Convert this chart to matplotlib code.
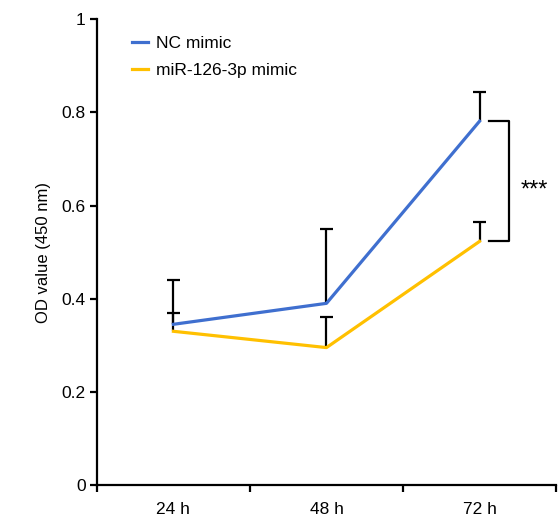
import matplotlib.pyplot as plt
import numpy as np

plt.rcParams['font.family'] = ['Liberation Sans', 'DejaVu Sans']

times = ["24 h", "48 h", "72 h"]
nc_mean = [0.345, 0.39, 0.781]
nc_upper = [0.44, 0.55, 0.843]
mir_mean = [0.33, 0.295, 0.523]
mir_upper = [0.37, 0.36, 0.564]

blue = "#3f6fcf"
yellow = "#ffc000"

fig = plt.figure(figsize=(5.6, 5.19), dpi=100)
ax = fig.add_axes([0.173, 0.0655, 0.82, 0.8975])

x = np.arange(len(times)) + 0.5
cap = 0.045

# upward-only error bars
for means, uppers in [(nc_mean, nc_upper), (mir_mean, mir_upper)]:
    ax.vlines(x, means, uppers, color="black", linewidth=1.6, zorder=1)
    ax.hlines(uppers, x - cap, x + cap, color="black", linewidth=1.6, zorder=1)

ax.plot(x, nc_mean, color=blue, linewidth=2.3, label="NC mimic", zorder=3)
ax.plot(x, mir_mean, color=yellow, linewidth=2.3, label="miR-126-3p mimic", zorder=2)

# significance bracket at 72 h
bx0, bx1 = x[2] + 0.06, x[2] + 0.19
ax.plot([bx0, bx1, bx1, bx0], [nc_mean[2], nc_mean[2], mir_mean[2], mir_mean[2]],
        color="black", linewidth=1.6, clip_on=False)
ax.text(bx1 + 0.17, (nc_mean[2] + mir_mean[2]) / 2 - 0.02, "***", ha="center",
        va="center", fontsize=17)

ax.set_xlim(0, 3)
ax.set_ylim(0, 1)
ax.set_xticks([0, 1, 2, 3])
ax.set_xticklabels([])
ax.set_xticks(x, minor=True)
ax.set_xticklabels(times, minor=True, fontsize=12.5)
ax.tick_params(axis="x", which="minor", length=0, pad=12)
ax.tick_params(axis="x", which="major", length=5, width=1.6)
ax.set_yticks([0, 0.2, 0.4, 0.6, 0.8, 1])
ax.set_yticklabels(["0", "0.2", "0.4", "0.6", "0.8", "1"], fontsize=12.5)
ax.tick_params(axis="y", length=5, width=1.6, pad=3)
ax.set_ylabel("OD value (450 nm)", fontsize=12, labelpad=8)

for side in ["top", "right"]:
    ax.spines[side].set_visible(False)
for side in ["left", "bottom"]:
    ax.spines[side].set_linewidth(1.6)

ax.legend(loc="upper left", bbox_to_anchor=(0.05, 0.99), frameon=False, fontsize=12.5,
          handlelength=0.9, handletextpad=0.5, labelspacing=0.65, borderpad=0.2)

fig.savefig("out.png", dpi=100)
